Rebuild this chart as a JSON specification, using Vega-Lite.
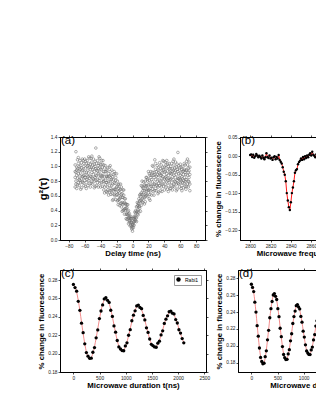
{
 "$schema": "https://vega.github.io/schema/vega-lite/v6.json",
 "padding": {"left": 36, "top": 133, "right": 0, "bottom": 0},
 "background": "white",
 "config": {
  "font": "Liberation Sans",
  "view": {"stroke": "black", "strokeWidth": 1},
  "axis": {"grid": false, "domainColor": "black", "domainWidth": 1, "tickColor": "black", "tickWidth": 0.7, "tickSize": 2, "labelFontSize": 4.8, "labelColor": "#222", "labelPadding": 1, "labelFont": "Liberation Sans", "titleFont": "Liberation Sans", "titleFontWeight": "bold", "titleFontSize": 7.8, "titleColor": "black", "titlePadding": 2, "labelFlush": false, "labelOverlap": false},
  "title": {"color": "black", "font": "Liberation Sans", "fontWeight": "normal", "fontSize": 11.5, "anchor": "start", "frame": "group", "offset": -12, "dx": 1}
 },
 "resolve": {"scale": {"color": "independent"}, "legend": {"color": "independent"}},
 "datasets": {
  "g2": [
   {"t":-72,"a":1.02,"b":0.85,"c":0.72,"d":0.93},{"t":-71,"a":0.80,"b":1.20,"c":0.92,"d":0.76},{"t":-70,"a":0.95,"b":0.70,"c":0.99,"d":0.88},{"t":-69,"a":0.75,"b":0.97,"c":1.09,"d":0.84},{"t":-68,"a":0.90,"b":0.78,"c":1.04,"d":1.12},{"t":-67,"a":0.82,"b":0.94,"c":0.74,"d":1.00},{"t":-66,"a":1.08,"b":0.87,"c":0.81,"d":0.96},{"t":-65,"a":0.69,"b":1.01,"c":0.91,"d":0.78},{"t":-64,"a":0.98,"b":0.83,"c":1.05,"d":0.71},{"t":-63,"a":0.86,"b":1.10,"c":0.79,"d":0.95},
   {"t":-62,"a":0.78,"b":0.95,"c":1.08,"d":0.87},{"t":-61,"a":1.00,"b":0.74,"c":0.88,"d":1.04},{"t":-60,"a":0.85,"b":1.10,"c":0.81,"d":0.92},{"t":-59,"a":1.07,"b":0.85,"c":0.73,"d":0.98},{"t":-58,"a":0.92,"b":1.04,"c":0.78,"d":0.70},{"t":-57,"a":1.00,"b":0.88,"c":1.08,"d":0.82},{"t":-56,"a":0.74,"b":0.95,"c":1.01,"d":0.86},{"t":-55,"a":1.13,"b":0.81,"c":0.91,"d":1.04},{"t":-54,"a":0.84,"b":0.99,"c":0.77,"d":1.11},{"t":-53,"a":0.96,"b":0.72,"c":1.03,"d":0.87},
   {"t":-52,"a":0.77,"b":0.99,"c":1.11,"d":0.86},{"t":-51,"a":0.92,"b":0.80,"c":1.06,"d":1.14},{"t":-50,"a":0.84,"b":0.96,"c":0.76,"d":1.02},{"t":-49,"a":1.10,"b":0.89,"c":0.83,"d":0.98},{"t":-48,"a":0.71,"b":1.03,"c":0.93,"d":0.80},{"t":-47,"a":1.00,"b":0.85,"c":1.07,"d":0.73},{"t":-46,"a":0.88,"b":1.25,"c":0.81,"d":0.97},{"t":-45,"a":1.04,"b":0.87,"c":0.74,"d":0.95},{"t":-44,"a":0.82,"b":1.08,"c":0.94,"d":0.78},{"t":-43,"a":0.97,"b":0.72,"c":1.01,"d":0.90},
   {"t":-42,"a":1.13,"b":0.81,"c":0.91,"d":1.04},{"t":-41,"a":0.84,"b":0.99,"c":0.77,"d":1.11},{"t":-40,"a":0.96,"b":0.72,"c":1.03,"d":0.87},{"t":-39,"a":0.78,"b":0.95,"c":1.08,"d":0.87},{"t":-38,"a":0.99,"b":0.73,"c":0.87,"d":1.03},{"t":-37,"a":0.83,"b":1.08,"c":0.79,"d":0.90},{"t":-36,"a":1.02,"b":0.80,"c":0.68,"d":0.93},{"t":-35,"a":0.86,"b":0.98,"c":0.72,"d":0.64},{"t":-34,"a":0.93,"b":0.81,"c":1.01,"d":0.75},{"t":-33,"a":0.66,"b":0.87,"c":0.93,"d":0.78},
   {"t":-32,"a":0.95,"b":0.78,"c":0.65,"d":0.86},{"t":-31,"a":0.72,"b":0.98,"c":0.84,"d":0.68},{"t":-30,"a":0.86,"b":0.61,"c":0.90,"d":0.79},{"t":-29,"a":0.65,"b":0.87,"c":0.99,"d":0.74},{"t":-28,"a":0.79,"b":0.67,"c":0.93,"d":1.01},{"t":-27,"a":0.70,"b":0.82,"c":0.62,"d":0.88},{"t":-26,"a":0.95,"b":0.74,"c":0.68,"d":0.83},{"t":-25,"a":0.54,"b":0.86,"c":0.76,"d":0.63},{"t":-24,"a":0.82,"b":0.67,"c":0.89,"d":0.55},{"t":-23,"a":0.69,"b":0.93,"c":0.62,"d":0.78},
   {"t":-22,"a":0.60,"b":0.77,"c":0.90,"d":0.69},{"t":-21,"a":0.81,"b":0.55,"c":0.69,"d":0.85},{"t":-20,"a":0.65,"b":0.90,"c":0.61,"d":0.72},{"t":-19,"a":0.80,"b":0.62,"c":0.53,"d":0.73},{"t":-18,"a":0.66,"b":0.75,"c":0.54,"d":0.48},{"t":-17,"a":0.70,"b":0.60,"c":0.76,"d":0.55},{"t":-16,"a":0.47,"b":0.64,"c":0.68,"d":0.56},{"t":-15,"a":0.76,"b":0.50,"c":0.58,"d":0.69},{"t":-14,"a":0.50,"b":0.62,"c":0.45,"d":0.72},{"t":-13,"a":0.58,"b":0.39,"c":0.63,"d":0.51},
   {"t":-12,"a":0.40,"b":0.58,"c":0.68,"d":0.48},{"t":-11,"a":0.50,"b":0.41,"c":0.61,"d":0.68},{"t":-10,"a":0.42,"b":0.51,"c":0.35,"d":0.56},{"t":-9,"a":0.56,"b":0.43,"c":0.40,"d":0.49},{"t":-8,"a":0.29,"b":0.49,"c":0.43,"d":0.35},{"t":-7,"a":0.44,"b":0.35,"c":0.48,"d":0.28},{"t":-6,"a":0.34,"b":0.48,"c":0.29,"d":0.39},{"t":-5,"a":0.40,"b":0.30,"c":0.22,"d":0.35},{"t":-4,"a":0.26,"b":0.36,"c":0.31,"d":0.24},{"t":-3,"a":0.29,"b":0.19,"c":0.31,"d":0.26},
   {"t":-2,"a":0.32,"b":0.20,"c":0.24,"d":0.29},{"t":-1,"a":0.18,"b":0.24,"c":0.15,"d":0.29},{"t":0,"a":0.20,"b":0.12,"c":0.22,"d":0.16},{"t":1,"a":0.17,"b":0.24,"c":0.29,"d":0.21},{"t":2,"a":0.30,"b":0.20,"c":0.25,"d":0.32},{"t":3,"a":0.28,"b":0.38,"c":0.26,"d":0.31},{"t":4,"a":0.40,"b":0.31,"c":0.26,"d":0.36},{"t":5,"a":0.38,"b":0.45,"c":0.30,"d":0.25},{"t":6,"a":0.46,"b":0.39,"c":0.51,"d":0.35},{"t":7,"a":0.34,"b":0.47,"c":0.50,"d":0.41},
   {"t":8,"a":0.56,"b":0.45,"c":0.38,"d":0.50},{"t":9,"a":0.46,"b":0.61,"c":0.53,"d":0.43},{"t":10,"a":0.59,"b":0.39,"c":0.62,"d":0.54},{"t":11,"a":0.47,"b":0.64,"c":0.74,"d":0.54},{"t":12,"a":0.62,"b":0.52,"c":0.73,"d":0.80},{"t":13,"a":0.57,"b":0.67,"c":0.51,"d":0.71},{"t":14,"a":0.79,"b":0.62,"c":0.58,"d":0.70},{"t":15,"a":0.49,"b":0.75,"c":0.67,"d":0.57},{"t":16,"a":0.74,"b":0.62,"c":0.80,"d":0.52},{"t":17,"a":0.66,"b":0.85,"c":0.60,"d":0.73},
   {"t":18,"a":0.61,"b":0.74,"c":0.85,"d":0.68},{"t":19,"a":0.80,"b":0.59,"c":0.70,"d":0.83},{"t":20,"a":0.68,"b":0.93,"c":0.64,"d":0.75},{"t":21,"a":0.90,"b":0.68,"c":0.56,"d":0.81},{"t":22,"a":0.76,"b":0.88,"c":0.62,"d":0.54},{"t":23,"a":0.85,"b":0.73,"c":0.93,"d":0.67},{"t":24,"a":0.61,"b":0.82,"c":0.88,"d":0.73},{"t":25,"a":1.01,"b":0.69,"c":0.79,"d":0.92},{"t":26,"a":0.73,"b":0.88,"c":0.66,"d":1.00},{"t":27,"a":0.85,"b":0.61,"c":0.92,"d":0.76},
   {"t":28,"a":0.67,"b":0.89,"c":1.09,"d":0.76},{"t":29,"a":0.82,"b":0.70,"c":0.96,"d":1.04},{"t":30,"a":0.75,"b":0.87,"c":0.67,"d":0.93},{"t":31,"a":1.01,"b":0.80,"c":0.74,"d":0.89},{"t":32,"a":0.63,"b":0.95,"c":0.85,"d":0.72},{"t":33,"a":0.92,"b":0.77,"c":0.99,"d":0.65},{"t":34,"a":0.81,"b":1.05,"c":0.74,"d":0.90},{"t":35,"a":0.97,"b":0.80,"c":0.67,"d":0.88},{"t":36,"a":0.76,"b":1.02,"c":0.88,"d":0.72},{"t":37,"a":0.91,"b":0.66,"c":0.95,"d":0.84},
   {"t":38,"a":1.08,"b":0.76,"c":0.86,"d":0.99},{"t":39,"a":0.80,"b":0.95,"c":0.73,"d":1.07},{"t":40,"a":0.92,"b":0.68,"c":0.99,"d":0.83},{"t":41,"a":0.76,"b":0.93,"c":1.06,"d":0.85},{"t":42,"a":0.98,"b":0.72,"c":0.86,"d":1.02},{"t":43,"a":0.83,"b":1.08,"c":0.79,"d":0.90},{"t":44,"a":1.03,"b":0.81,"c":0.69,"d":0.94},{"t":45,"a":0.88,"b":1.00,"c":0.74,"d":0.66},{"t":46,"a":0.96,"b":0.84,"c":1.04,"d":0.78},{"t":47,"a":0.70,"b":0.91,"c":0.97,"d":0.82},
   {"t":48,"a":1.00,"b":0.83,"c":0.70,"d":0.91},{"t":49,"a":0.78,"b":1.04,"c":0.90,"d":0.74},{"t":50,"a":0.93,"b":0.68,"c":0.97,"d":0.86},{"t":51,"a":0.73,"b":0.95,"c":1.07,"d":0.82},{"t":52,"a":0.88,"b":0.76,"c":1.02,"d":1.10},{"t":53,"a":0.80,"b":0.92,"c":0.72,"d":0.98},{"t":54,"a":1.06,"b":0.85,"c":0.79,"d":0.94},{"t":55,"a":0.67,"b":0.99,"c":0.89,"d":0.76},{"t":56,"a":0.96,"b":0.81,"c":1.03,"d":0.69},{"t":57,"a":0.84,"b":1.19,"c":0.77,"d":0.93},
   {"t":58,"a":0.76,"b":0.90,"c":1.01,"d":0.83},{"t":59,"a":0.95,"b":0.72,"c":0.84,"d":0.98},{"t":60,"a":0.82,"b":1.03,"c":0.78,"d":0.88},{"t":61,"a":0.99,"b":0.80,"c":0.70,"d":0.91},{"t":62,"a":0.86,"b":0.96,"c":0.74,"d":0.67},{"t":63,"a":0.93,"b":0.83,"c":1.00,"d":0.78},{"t":64,"a":0.71,"b":0.89,"c":0.94,"d":0.81},{"t":65,"a":1.04,"b":0.77,"c":0.85,"d":0.96},{"t":66,"a":0.79,"b":0.92,"c":0.73,"d":1.02},{"t":67,"a":0.89,"b":0.69,"c":0.95,"d":0.82},
   {"t":68,"a":0.73,"b":0.95,"c":1.07,"d":0.82},{"t":69,"a":0.88,"b":0.76,"c":1.02,"d":1.10},{"t":70,"a":0.80,"b":0.92,"c":0.72,"d":0.98},{"t":71,"a":1.06,"b":0.85,"c":0.79,"d":0.94},{"t":72,"a":0.67,"b":0.99,"c":0.89,"d":0.76}
  ],
  "odmr": [
   {"f":2800,"p":0.003},{"f":2801,"p":0.005},{"f":2802,"p":-0.002},{"f":2803,"p":0.004},{"f":2804,"p":-0.004},{"f":2805,"p":0.000},{"f":2806,"p":0.006},{"f":2807,"p":0.002},{"f":2808,"p":-0.003},{"f":2809,"p":0.001},
   {"f":2810,"p":-0.002},{"f":2811,"p":-0.006},{"f":2812,"p":0.002},{"f":2813,"p":-0.004},{"f":2814,"p":-0.008},{"f":2815,"p":-0.003},{"f":2816,"p":0.008},{"f":2817,"p":-0.002},{"f":2818,"p":-0.005},{"f":2819,"p":0.002},
   {"f":2820,"p":-0.006},{"f":2821,"p":-0.004},{"f":2822,"p":-0.010},{"f":2823,"p":-0.003},{"f":2824,"p":0.000},{"f":2825,"p":-0.008},{"f":2826,"p":-0.002},{"f":2827,"p":-0.006},{"f":2828,"p":0.003},{"f":2829,"p":-0.010},
   {"f":2830,"p":-0.015},{"f":2831,"p":-0.020},{"f":2832,"p":-0.030},{"f":2833,"p":-0.042},{"f":2834,"p":-0.050},{"f":2835,"p":-0.068},{"f":2836,"p":-0.100},{"f":2837,"p":-0.120},{"f":2838,"p":-0.138},{"f":2839,"p":-0.146},
   {"f":2840,"p":-0.125},{"f":2841,"p":-0.100},{"f":2842,"p":-0.085},{"f":2843,"p":-0.068},{"f":2844,"p":-0.045},{"f":2845,"p":-0.038},{"f":2846,"p":-0.035},{"f":2847,"p":-0.022},{"f":2848,"p":-0.016},{"f":2849,"p":-0.012},
   {"f":2850,"p":-0.006},{"f":2851,"p":-0.010},{"f":2852,"p":-0.002},{"f":2853,"p":-0.008},{"f":2854,"p":0.000},{"f":2855,"p":-0.005},{"f":2856,"p":0.002},{"f":2857,"p":-0.003},{"f":2858,"p":0.004},{"f":2859,"p":0.008},
   {"f":2860,"p":0.002},{"f":2861,"p":0.012},{"f":2862,"p":0.004},{"f":2863,"p":0.001},{"f":2864,"p":-0.003},{"f":2865,"p":0.005},{"f":2866,"p":0.000},{"f":2867,"p":-0.004},{"f":2868,"p":0.003},{"f":2869,"p":0.006},
   {"f":2870,"p":-0.002},{"f":2871,"p":0.002},{"f":2872,"p":-0.005},{"f":2873,"p":0.004},{"f":2874,"p":0.000},{"f":2875,"p":-0.003},{"f":2876,"p":0.005},{"f":2877,"p":0.001},{"f":2878,"p":-0.002},{"f":2879,"p":0.003},{"f":2880,"p":0.000}
  ],
  "rabi1": [
   {"t":0,"fit":0.2745,"y":0.2753},{"t":31,"fit":0.2725,"y":0.2719},{"t":62,"fit":0.2668,"y":0.2680},{"t":93,"fit":0.2579,"y":0.2569},{"t":124,"fit":0.2467,"y":0.2471},{"t":155,"fit":0.2343,"y":0.2331},{"t":186,"fit":0.2219,"y":0.2228},{"t":217,"fit":0.2107,"y":0.2107},{"t":248,"fit":0.2018,"y":0.2011},{"t":279,"fit":0.1961,"y":0.1972},
   {"t":310,"fit":0.1941,"y":0.1949},{"t":341,"fit":0.1956,"y":0.1950},{"t":372,"fit":0.2003,"y":0.2015},{"t":403,"fit":0.2076,"y":0.2066},{"t":434,"fit":0.2168,"y":0.2172},{"t":465,"fit":0.2270,"y":0.2258},{"t":496,"fit":0.2372,"y":0.2381},{"t":527,"fit":0.2464,"y":0.2464},{"t":558,"fit":0.2537,"y":0.2530},{"t":589,"fit":0.2584,"y":0.2595},
   {"t":620,"fit":0.2600,"y":0.2608},{"t":651,"fit":0.2586,"y":0.2580},{"t":682,"fit":0.2545,"y":0.2557},{"t":713,"fit":0.2482,"y":0.2472},{"t":744,"fit":0.2401,"y":0.2405},{"t":775,"fit":0.2313,"y":0.2301},{"t":806,"fit":0.2224,"y":0.2233},{"t":837,"fit":0.2143,"y":0.2143},{"t":868,"fit":0.2080,"y":0.2073},{"t":899,"fit":0.2039,"y":0.2050},
   {"t":930,"fit":0.2025,"y":0.2033},{"t":961,"fit":0.2037,"y":0.2031},{"t":992,"fit":0.2072,"y":0.2084},{"t":1023,"fit":0.2127,"y":0.2117},{"t":1054,"fit":0.2196,"y":0.2200},{"t":1085,"fit":0.2273,"y":0.2261},{"t":1116,"fit":0.2349,"y":0.2358},{"t":1147,"fit":0.2418,"y":0.2418},{"t":1178,"fit":0.2473,"y":0.2466},{"t":1209,"fit":0.2508,"y":0.2519},
   {"t":1240,"fit":0.2520,"y":0.2528},{"t":1271,"fit":0.2509,"y":0.2503},{"t":1302,"fit":0.2477,"y":0.2489},{"t":1333,"fit":0.2426,"y":0.2416},{"t":1364,"fit":0.2363,"y":0.2367},{"t":1395,"fit":0.2293,"y":0.2281},{"t":1426,"fit":0.2222,"y":0.2231},{"t":1457,"fit":0.2159,"y":0.2159},{"t":1488,"fit":0.2108,"y":0.2101},{"t":1519,"fit":0.2076,"y":0.2087},
   {"t":1550,"fit":0.2065,"y":0.2073},{"t":1581,"fit":0.2075,"y":0.2069},{"t":1612,"fit":0.2102,"y":0.2114},{"t":1643,"fit":0.2145,"y":0.2135},{"t":1674,"fit":0.2200,"y":0.2204},{"t":1705,"fit":0.2260,"y":0.2248},{"t":1736,"fit":0.2320,"y":0.2329},{"t":1767,"fit":0.2375,"y":0.2375},{"t":1798,"fit":0.2418,"y":0.2411},{"t":1829,"fit":0.2445,"y":0.2456},
   {"t":1860,"fit":0.2455,"y":0.2463},{"t":1891,"fit":0.2446,"y":0.2440},{"t":1922,"fit":0.2420,"y":0.2432},{"t":1953,"fit":0.2380,"y":0.2370},{"t":1984,"fit":0.2329,"y":0.2333},{"t":2015,"fit":0.2272,"y":0.2260},{"t":2046,"fit":0.2215,"y":0.2224},{"t":2077,"fit":0.2164,"y":0.2164},{"t":2108,"fit":0.2124,"y":0.2117}
  ],
  "rabi2": [
   {"t":0,"fit":0.2720,"y":0.2728},{"t":22,"fit":0.2697,"y":0.2691},{"t":44,"fit":0.2630,"y":0.2642},{"t":66,"fit":0.2526,"y":0.2516},{"t":88,"fit":0.2395,"y":0.2399},{"t":110,"fit":0.2250,"y":0.2238},{"t":132,"fit":0.2105,"y":0.2114},{"t":154,"fit":0.1974,"y":0.1974},{"t":176,"fit":0.1870,"y":0.1863},{"t":198,"fit":0.1803,"y":0.1814},
   {"t":220,"fit":0.1780,"y":0.1788},{"t":242,"fit":0.1800,"y":0.1794},{"t":264,"fit":0.1859,"y":0.1871},{"t":286,"fit":0.1951,"y":0.1941},{"t":308,"fit":0.2067,"y":0.2071},{"t":330,"fit":0.2195,"y":0.2183},{"t":352,"fit":0.2323,"y":0.2332},{"t":374,"fit":0.2439,"y":0.2439},{"t":396,"fit":0.2531,"y":0.2524},{"t":418,"fit":0.2590,"y":0.2601},
   {"t":440,"fit":0.2610,"y":0.2618},{"t":462,"fit":0.2591,"y":0.2585},{"t":484,"fit":0.2536,"y":0.2548},{"t":506,"fit":0.2449,"y":0.2439},{"t":528,"fit":0.2341,"y":0.2345},{"t":550,"fit":0.2220,"y":0.2208},{"t":572,"fit":0.2099,"y":0.2108},{"t":594,"fit":0.1991,"y":0.1991},{"t":616,"fit":0.1904,"y":0.1897},{"t":638,"fit":0.1849,"y":0.1860},
   {"t":660,"fit":0.1830,"y":0.1838},{"t":682,"fit":0.1846,"y":0.1840},{"t":704,"fit":0.1892,"y":0.1904},{"t":726,"fit":0.1964,"y":0.1954},{"t":748,"fit":0.2055,"y":0.2059},{"t":770,"fit":0.2155,"y":0.2143},{"t":792,"fit":0.2255,"y":0.2264},{"t":814,"fit":0.2346,"y":0.2346},{"t":836,"fit":0.2418,"y":0.2411},{"t":858,"fit":0.2464,"y":0.2475},
   {"t":880,"fit":0.2480,"y":0.2488},{"t":902,"fit":0.2466,"y":0.2460},{"t":924,"fit":0.2424,"y":0.2436},{"t":946,"fit":0.2358,"y":0.2348},{"t":968,"fit":0.2276,"y":0.2280},{"t":990,"fit":0.2185,"y":0.2173},{"t":1012,"fit":0.2094,"y":0.2103},{"t":1034,"fit":0.2012,"y":0.2012},{"t":1056,"fit":0.1946,"y":0.1939},{"t":1078,"fit":0.1904,"y":0.1915},
   {"t":1100,"fit":0.1890,"y":0.1898},{"t":1122,"fit":0.1902,"y":0.1896},{"t":1144,"fit":0.1939,"y":0.1951},{"t":1166,"fit":0.1995,"y":0.1985},{"t":1188,"fit":0.2066,"y":0.2070},{"t":1210,"fit":0.2145,"y":0.2133},{"t":1232,"fit":0.2224,"y":0.2233},{"t":1254,"fit":0.2295,"y":0.2295},{"t":1276,"fit":0.2351,"y":0.2344},{"t":1298,"fit":0.2388,"y":0.2399},{"t":1320,"fit":0.2400,"y":0.2408}
  ]
 },
 "spacing": 8,
 "vconcat": [
  {
   "spacing": 6,
   "hconcat": [
    {
     "width": 145, "height": 103,
     "data": {"name": "g2"},
     "transform": [{"fold": ["a", "b", "c", "d"], "as": ["k", "g"]}],
     "title": {"text": "(a)"},
     "layer": [
      {
       "mark": {"type": "point", "shape": "circle", "filled": false, "size": 7, "stroke": "#6e6e6e", "strokeWidth": 0.55, "opacity": 1},
       "encoding": {
        "x": {"field": "t", "type": "quantitative", "scale": {"domain": [-91, 91], "nice": false, "zero": false}, "axis": {"orient": "bottom", "values": [-80, -60, -40, -20, 0, 20, 40, 60, 80], "title": "Delay time (ns)"}},
        "y": {"field": "g", "type": "quantitative", "scale": {"domain": [0, 1.4], "nice": false, "zero": false}, "axis": {"orient": "left", "values": [0, 0.2, 0.4, 0.6, 0.8, 1.0, 1.2, 1.4], "format": ".1f", "title": "g²(τ)", "titleFontSize": 11}}
       }
      },
      {
       "mark": {"type": "point", "opacity": 0},
       "encoding": {
        "x": {"field": "t", "type": "quantitative", "axis": {"orient": "top", "values": [-80, -60, -40, -20, 0, 20, 40, 60, 80], "labels": false, "title": null}},
        "y": {"field": "g", "type": "quantitative", "axis": {"orient": "right", "values": [0, 0.2, 0.4, 0.6, 0.8, 1.0, 1.2, 1.4], "labels": false, "title": null}}
       }
      }
     ],
     "resolve": {"axis": {"x": "independent", "y": "independent"}}
    },
    {
     "width": 135, "height": 103,
     "data": {"name": "odmr"},
     "title": {"text": "(b)"},
     "layer": [
      {
       "mark": {"type": "line", "color": "#ff1a1a", "strokeWidth": 1},
       "encoding": {
        "x": {"field": "f", "type": "quantitative", "scale": {"domain": [2790, 2922.7], "nice": false, "zero": false}, "axis": {"orient": "top", "values": [2800, 2820, 2840, 2860, 2880, 2900, 2920], "labels": false, "title": null}},
        "y": {"field": "p", "type": "quantitative", "scale": {"domain": [-0.227, 0.052], "nice": false, "zero": false}, "axis": {"orient": "right", "values": [-0.2, -0.15, -0.1, -0.05, 0, 0.05], "labels": false, "title": null}}
       }
      },
      {
       "mark": {"type": "point", "shape": "circle", "filled": true, "size": 6, "color": "black", "opacity": 1},
       "encoding": {
        "x": {"field": "f", "type": "quantitative", "axis": {"orient": "bottom", "values": [2800, 2820, 2840, 2860, 2880, 2900, 2920], "format": "d", "title": "Microwave frequency (MHz)"}},
        "y": {"field": "p", "type": "quantitative", "axis": {"orient": "left", "values": [-0.2, -0.15, -0.1, -0.05, 0, 0.05], "format": ".2f", "title": "% change in fluorescence"}}
       }
      }
     ],
     "resolve": {"axis": {"x": "independent", "y": "independent"}}
    }
   ]
  },
  {
   "spacing": 4,
   "resolve": {"scale": {"color": "independent"}, "legend": {"color": "independent"}},
   "hconcat": [
    {
     "width": 146, "height": 102,
     "data": {"name": "rabi1"},
     "title": {"text": "(c)"},
     "layer": [
      {
       "mark": {"type": "line", "color": "#f07070", "strokeWidth": 0.8, "interpolate": "monotone"},
       "encoding": {
        "x": {"field": "t", "type": "quantitative", "scale": {"domain": [-256, 2532], "nice": false, "zero": false}, "axis": {"orient": "top", "values": [0, 500, 1000, 1500, 2000, 2500], "labels": false, "title": null}},
        "y": {"field": "fit", "type": "quantitative", "scale": {"domain": [0.18, 0.291], "nice": false, "zero": false}, "axis": {"orient": "right", "values": [0.18, 0.2, 0.22, 0.24, 0.26, 0.28], "labels": false, "title": null}}
       }
      },
      {
       "mark": {"type": "point", "shape": "circle", "filled": true, "size": 11, "opacity": 1},
       "encoding": {
        "x": {"field": "t", "type": "quantitative", "axis": {"orient": "bottom", "values": [0, 500, 1000, 1500, 2000, 2500], "format": "d", "title": "Microwave duration t(ns)"}},
        "y": {"field": "y", "type": "quantitative", "axis": {"orient": "left", "values": [0.18, 0.2, 0.22, 0.24, 0.26, 0.28], "format": ".2f", "title": "% change in fluorescence"}},
        "color": {"datum": "Rabi1", "type": "nominal", "scale": {"range": ["black"]}, "legend": {"title": null, "orient": "top-right", "offset": 5, "symbolType": "circle", "symbolSize": 20, "labelFontSize": 5, "labelColor": "black", "strokeColor": "#999", "padding": 2, "symbolStrokeWidth": 0}}
       }
      }
     ],
     "resolve": {"axis": {"x": "independent", "y": "independent"}}
    },
    {
     "width": 156, "height": 102,
     "data": {"name": "rabi2"},
     "title": {"text": "(d)"},
     "layer": [
      {
       "mark": {"type": "line", "color": "#f07070", "strokeWidth": 0.8, "interpolate": "monotone"},
       "encoding": {
        "x": {"field": "t", "type": "quantitative", "scale": {"domain": [-256, 2727], "nice": false, "zero": false}, "axis": {"orient": "top", "values": [0, 500, 1000, 1500, 2000, 2500], "labels": false, "title": null}},
        "y": {"field": "fit", "type": "quantitative", "scale": {"domain": [0.169, 0.2897], "nice": false, "zero": false}, "axis": {"orient": "right", "values": [0.18, 0.2, 0.22, 0.24, 0.26, 0.28], "labels": false, "title": null}}
       }
      },
      {
       "mark": {"type": "point", "shape": "circle", "filled": true, "size": 11, "color": "black", "opacity": 1},
       "encoding": {
        "x": {"field": "t", "type": "quantitative", "axis": {"orient": "bottom", "values": [0, 500, 1000, 1500, 2000, 2500], "format": "d", "title": "Microwave duration t(ns)"}},
        "y": {"field": "y", "type": "quantitative", "axis": {"orient": "left", "values": [0.18, 0.2, 0.22, 0.24, 0.26, 0.28], "format": ".2f", "title": "% change in fluorescence"}}
       }
      }
     ],
     "resolve": {"axis": {"x": "independent", "y": "independent"}}
    }
   ]
  }
 ]
}
